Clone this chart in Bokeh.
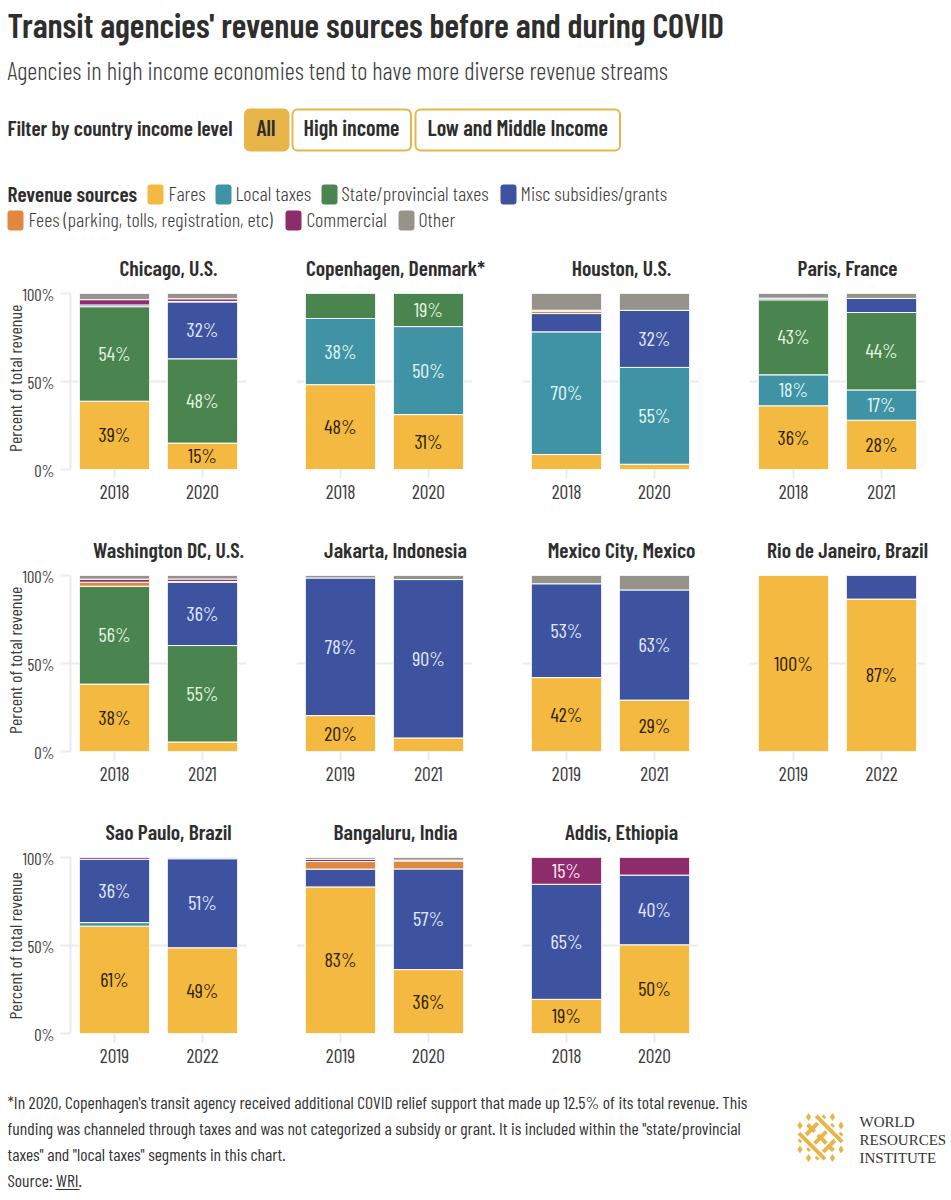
from math import pi

from bokeh.core.properties import value
from bokeh.embed import file_html
from bokeh.resources import INLINE
from bokeh.plotting import figure
from bokeh.layouts import column, row
from bokeh.models import (BoxAnnotation, ColumnDataSource, FactorRange, FixedTicker,
                          Label, Range1d)

TITLE = "Transit agencies' revenue sources before and during COVID"
SUBTITLE = "Agencies in high income economies tend to have more diverse revenue streams"
Y_LABEL = "Percent of total revenue"
FOOTNOTES = [
    "*In 2020, Copenhagen's transit agency received additional COVID relief support that made up 12.5% of its total revenue. This",
    "funding was channeled through taxes and was not categorized a subsidy or grant. It is included within the \"state/provincial",
    "taxes\" and \"local taxes\" segments in this chart.",
    "Source: WRI.",
]

CITIES = ["Chicago, U.S.", "Copenhagen, Denmark*", "Houston, U.S.", "Paris, France",
          "Washington DC, U.S.", "Jakarta, Indonesia", "Mexico City, Mexico", "Rio de Janeiro, Brazil",
          "Sao Paulo, Brazil", "Bangaluru, India", "Addis, Ethiopia"]
YEARS = [["2018", "2020"], ["2018", "2020"], ["2018", "2020"], ["2018", "2021"],
         ["2018", "2021"], ["2019", "2021"], ["2019", "2021"], ["2019", "2022"],
         ["2019", "2022"], ["2019", "2020"], ["2018", "2020"]]

SERIES = ["Fares", "Local taxes", "State/provincial taxes", "Misc subsidies/grants",
          "Fees (parking, tolls, registration, etc)", "Commercial", "Other"]
COLORS = ["#F3B941", "#3F93A4", "#4A8550", "#3D53A0", "#E08740", "#8E2B6B", "#96948A"]
LABEL_COLORS = ["#2E1E00", "#E2F6F8", "#E4F5E0", "#E2E8FC", "#2E1E00", "#FBE6F2", "#2E1E00"]

FARES      = [[38.8, 15.0], [48.2, 31.2], [8.5, 3.0],   [36.2, 28.0], [38.3, 5.4],  [20.4, 7.7],  [42.0, 29.2], [100.0, 86.6], [61.0, 48.7], [83.3, 36.3], [19.4, 50.4]]
LOCAL      = [[0, 0],       [37.6, 50.0], [69.7, 55.0], [17.6, 17.2], [0, 0],       [0, 0],       [0, 0],       [0, 0],        [2.0, 0],     [0, 0],       [0, 0]]
STATE      = [[53.7, 47.9], [14.2, 18.8], [0, 0],       [42.6, 44.0], [55.6, 54.8], [0, 0],       [0, 0],       [0, 0],        [0, 0],       [0, 0],       [0, 0]]
MISC       = [[1.0, 32.3],  [0, 0],       [10.4, 32.4], [0.9, 8.0],   [0, 36.0],    [78.2, 90.0], [53.3, 62.6], [0, 13.4],     [36.0, 50.6], [10.1, 57.2], [65.4, 39.6]]
FEES       = [[0, 0.3],     [0, 0],       [1.4, 0],     [0, 0],       [2.3, 0.4],   [0, 0],       [0, 0],       [0, 0],        [0, 0],       [4.3, 4.5],   [0, 0]]
COMMERCIAL = [[3.0, 1.5],   [0, 0],       [0.5, 0],     [0, 0],       [1.7, 1.4],   [0, 0],       [0, 0],       [0, 0],        [1.0, 0],     [1.3, 0.5],   [15.2, 10.0]]
OTHER      = [[3.5, 3.0],   [0, 0],       [9.5, 9.6],   [2.7, 2.8],   [2.1, 2.0],   [1.4, 2.3],   [4.7, 8.2],   [0, 0],        [0, 0.7],     [1.0, 1.5],   [0, 0]]
ALL_SERIES = [FARES, LOCAL, STATE, MISC, FEES, COMMERCIAL, OTHER]
MIN_LABELLED = 15

FONT = "Barlow Condensed"
FONT_LIGHT = "Barlow Condensed Light"
FONT_SEMI = "Barlow Condensed SemiBold"
INK = "#2E2E2E"
GRID = "#EBEBEE"
GOLD = "#E8B54B"
SOFT = "#3C3C3C"


def page_figure(top, height, width=951):
    p = figure(width=width, height=height, x_range=Range1d(0, width),
               y_range=Range1d(top + height, top), x_axis_type=None, y_axis_type=None,
               output_backend="svg", toolbar_location=None, min_border=0, outline_line_color=None)
    p.grid.visible = False
    return p


def text(p, x, y, s, size, font=FONT, color=INK, align="left"):
    p.add_layout(Label(x=x, y=y, text=s, text_font=font, text_font_size=f"{size}px",
                       text_color=color, text_baseline="middle", text_align=align))


def round_box(p, l, r, t, b, fill, line=None, radius=5):
    p.add_layout(BoxAnnotation(left=l, right=r, top=t, bottom=b, fill_color=fill, fill_alpha=1,
                               line_color=line, line_width=2, line_alpha=1 if line else 0,
                               border_radius=radius, level="underlay"))


# ---------- header ----------
head = page_figure(0, 249)
text(head, 7, 24, TITLE, 34.3, FONT_SEMI)
text(head, 7, 69, SUBTITLE, 24.8, FONT_LIGHT, SOFT)
text(head, 7, 126, "Filter by country income level", 21.5, FONT_SEMI)
round_box(head, 244.5, 288, 109, 150, GOLD, GOLD)
round_box(head, 292, 410.5, 109, 150, "#FFFFFF", GOLD)
round_box(head, 415, 619.5, 109, 150, "#FFFFFF", GOLD)
text(head, 256, 126, "All", 22, FONT_SEMI)
text(head, 303, 126, "High income", 22, FONT_SEMI)
text(head, 427, 126, "Low and Middle Income", 22, FONT_SEMI)
text(head, 7, 192, "Revenue sources", 21.5, FONT_SEMI)
LEGEND_SWATCH_X = [147, 215, 321, 500, 7, 285, 398]
LEGEND_TEXT_X = [168, 235, 341, 520, 28, 306, 418]
LEGEND_Y = [194, 194, 194, 194, 220, 220, 220]
for name, col, sx, tx, ly in zip(SERIES, COLORS, LEGEND_SWATCH_X, LEGEND_TEXT_X, LEGEND_Y):
    round_box(head, sx, sx + 16, ly - 10, ly + 10, col, None, radius=3)
    text(head, tx, ly - 2, name, 20.2, FONT_LIGHT, SOFT)

# ---------- panels ----------
Y_STRIP = 24
OVERLAP = 8
BORDER_LEFT = [70 - Y_STRIP + OVERLAP, 11, 11, 12]
BORDER_RIGHT = [39, 39, 39, 26]
FRAME = 176
TITLE_CENTERS = [168, 395, 621, 847]
ROW_TOP = [249, 531, 813]
STRIP_H = 33
TOP_BORDER = 11
Y_LABEL_SHIFT = 21


def panel(i, col, row_index):
    bottom_border = 52 if row_index == 2 else 62
    height = TOP_BORDER + FRAME + bottom_border
    width = BORDER_LEFT[col] + FRAME + BORDER_RIGHT[col]
    years = YEARS[i]
    p = figure(width=width, height=height, x_range=FactorRange(factors=years, range_padding=0, factor_padding=0),
               y_range=Range1d(0, 100), output_backend="svg", toolbar_location=None,
               min_border_left=BORDER_LEFT[col], min_border_right=BORDER_RIGHT[col],
               min_border_top=TOP_BORDER, min_border_bottom=bottom_border, outline_line_color=None)
    p.xgrid.visible = False
    p.ygrid.ticker = FixedTicker(ticks=[0, 50, 100])
    p.ygrid.grid_line_color = GRID
    p.ygrid.grid_line_width = 2
    p.xaxis.axis_line_color = None
    p.xaxis.major_tick_line_color = GRID
    p.xaxis.major_tick_line_width = 2
    p.xaxis.major_tick_in = 0
    p.xaxis.major_tick_out = 9
    p.xaxis.minor_tick_line_color = None
    p.xaxis.major_label_text_font = FONT
    p.xaxis.major_label_text_font_size = "19.5px"
    p.xaxis.major_label_text_color = SOFT
    p.xaxis.major_label_standoff = 6
    if col == 0:
        p.margin = (0, 0, 0, -OVERLAP)
        p.border_fill_color = None
        p.yaxis.ticker = FixedTicker(ticks=[0, 50, 100])
        p.yaxis.major_label_overrides = {0: "0%", 50: "50%", 100: "100%"}
        p.yaxis.axis_line_color = GRID
        p.yaxis.axis_line_width = 2
        p.yaxis.major_tick_line_color = GRID
        p.yaxis.major_tick_line_width = 2
        p.yaxis.major_tick_in = 0
        p.yaxis.major_tick_out = 10
        p.yaxis.minor_tick_line_color = None
        p.yaxis.major_label_text_font = FONT
        p.yaxis.major_label_text_font_size = "16.5px"
        p.yaxis.major_label_text_color = SOFT
        p.yaxis.major_label_standoff = 6
    else:
        p.yaxis.visible = False

    for j, year in enumerate(years):
        base = 0.0
        for s, series in enumerate(ALL_SERIES):
            v = series[i][j]
            if v <= 0:
                continue
            src = ColumnDataSource(dict(x=[year], bottom=[base], top=[base + v]))
            p.vbar(x="x", bottom="bottom", top="top", width=0.8, source=src,
                   fill_color=COLORS[s], line_color="#FFFFFF", line_width=1)
            if round(v) >= MIN_LABELLED:
                lab = ColumnDataSource(dict(x=[year], y=[base + v / 2], t=[f"{round(v)}%"]))
                p.text(x="x", y="y", text="t", source=lab, text_align="center", text_baseline="middle",
                       text_font=value(FONT), text_font_size="20px", text_color=LABEL_COLORS[s], y_offset=-1)
            base += v
    return p


blocks = []
k = 0
for r, n in enumerate([4, 4, 3]):
    strip = page_figure(ROW_TOP[r], STRIP_H)
    for c in range(n):
        text(strip, TITLE_CENTERS[c], ROW_TOP[r] + 17, CITIES[k + c], 21.6, FONT_SEMI, INK, "center")
    plot_top = ROW_TOP[r] + STRIP_H
    panels = [panel(k + c, c, r) for c in range(n)]
    ylab = page_figure(plot_top, panels[0].height, Y_STRIP)
    ylab.text(x=[14], y=[plot_top + TOP_BORDER + FRAME / 2 + Y_LABEL_SHIFT], text=[Y_LABEL], angle=pi / 2,
              text_align="center", text_baseline="middle", text_font=value(FONT), text_font_size="18px",
              text_color=SOFT)
    blocks += [strip, row([ylab] + panels, spacing=0)]
    k += n

# ---------- footer ----------
foot = page_figure(1085, 115)
FOOT_Y = [1101, 1127, 1153, 1179]
for line, y in zip(FOOTNOTES, FOOT_Y):
    text(foot, 7, y, line, 17.6, FONT, "#333333")
foot.line([55, 79], [1189, 1189], line_color="#333333", line_width=1)

# logo: woven diamond, drawn on a rotated lattice
CX, CY, U = 820, 1137, 13


def lat(u, v):
    return CX + (u - v) * U, CY + (u + v) * U


STRANDS = [
    [(-1, -.66), (1, -.66)], [(-1, 0), (-.45, 0)], [(-.2, 0), (.45, 0)], [(.7, 0), (1, 0)],
    [(-1, .66), (1, .66)],
    [(-.66, -1), (-.66, -.85)], [(-.66, -.45), (-.66, .45)], [(-.66, .85), (-.66, 1)],
    [(0, -1), (0, -.85)], [(0, -.45), (0, .45)], [(0, .85), (0, 1)],
    [(.66, -1), (.66, -.85)], [(.66, -.45), (.66, .45)], [(.66, .85), (.66, 1)],
]
foot.multi_line([[lat(*a)[0], lat(*b)[0]] for a, b in STRANDS],
                [[lat(*a)[1], lat(*b)[1]] for a, b in STRANDS],
                line_color=GOLD, line_width=4)
DOTS = [(-1.25, -.33), (-1.25, .33), (1.25, -.33), (1.25, .33), (-.33, -1.25), (.33, -1.25), (-.33, 1.25), (.33, 1.25)]
foot.scatter([lat(*d)[0] for d in DOTS], [lat(*d)[1] for d in DOTS], marker="diamond", size=8,
             fill_color=GOLD, line_color=None)
for word, y in zip(["WORLD", "RESOURCES", "INSTITUTE"], [1121, 1139, 1157]):
    text(foot, 859, y, word, 15, "Liberation Serif", "#333333")

page = column([head] + blocks + [foot], spacing=0)
open("out.html", "w").write(file_html(page, INLINE))
